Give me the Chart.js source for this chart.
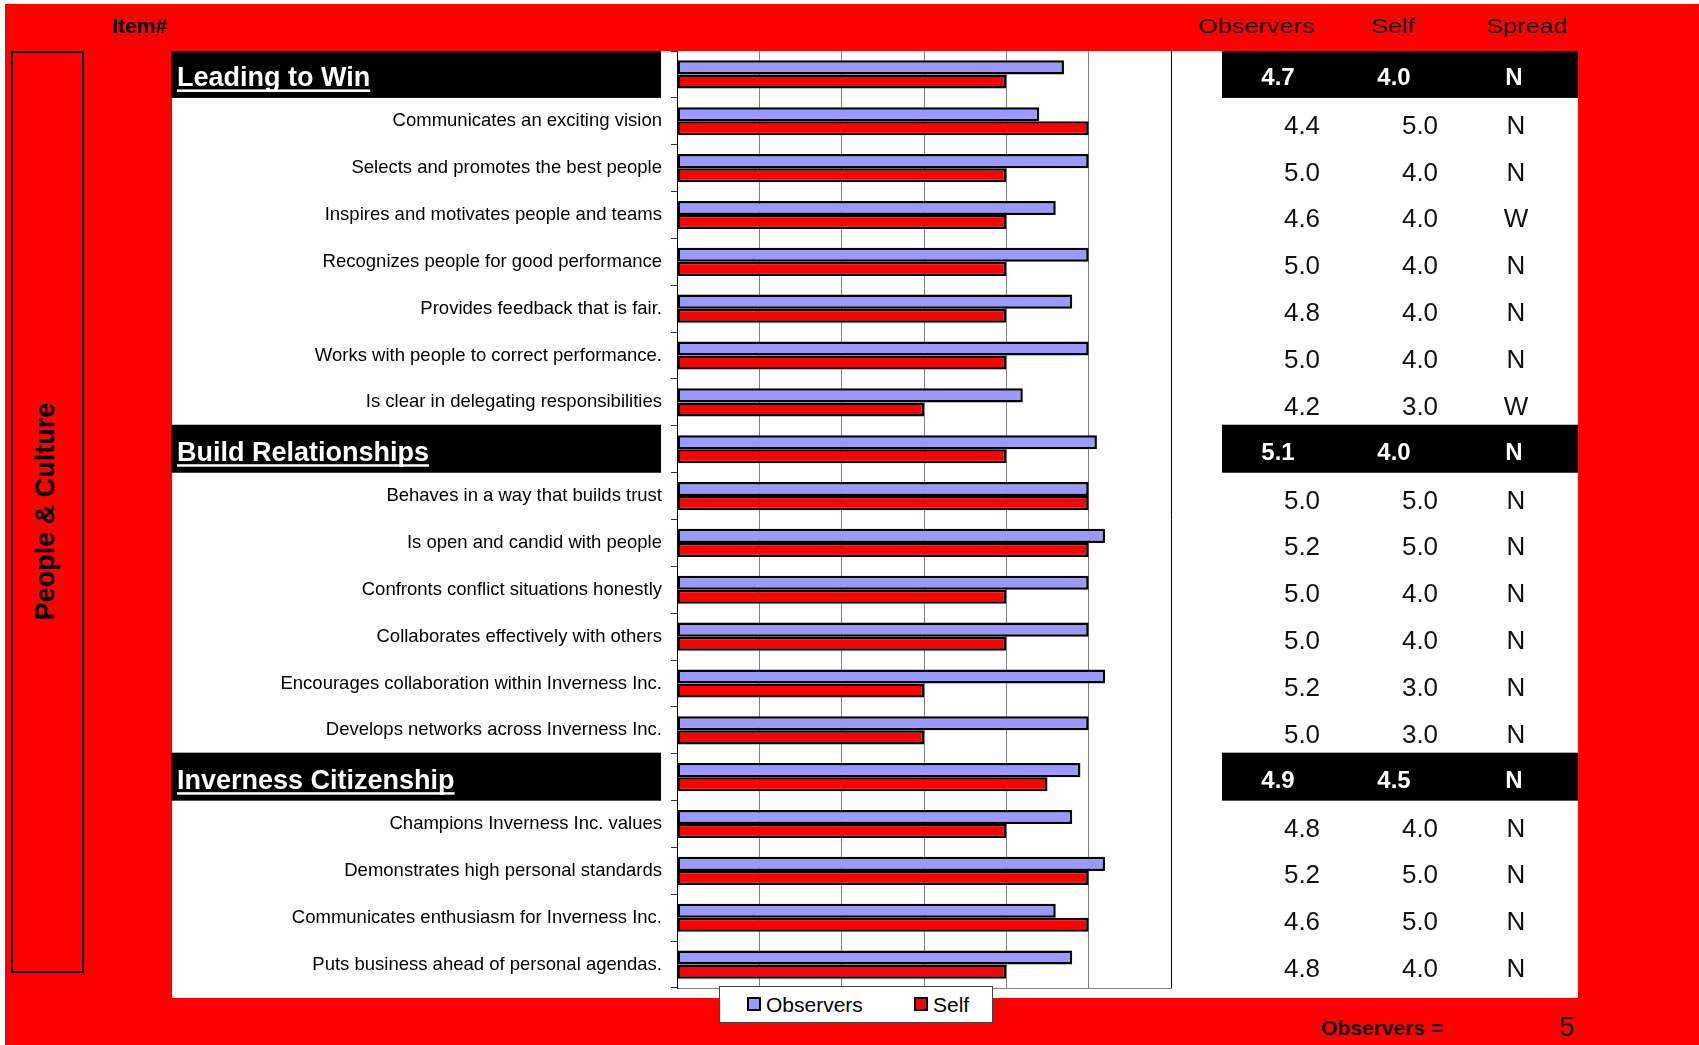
<!DOCTYPE html>
<html>
<head>
<meta charset="utf-8">
<script src="https://cdn.jsdelivr.net/npm/chart.js"></script>
<style>
  body { margin: 0; width: 1699px; height: 1045px; overflow: hidden; background: #fff; font-family: "Liberation Sans", Arial, sans-serif; }
  .abs { position: absolute; white-space: nowrap; }
  #bg { left: 5px; top: 4px; width: 1694px; height: 1041px; background: #ff0000; }
  #panel { left: 172px; top: 51px; width: 1406px; height: 947px; background: #fff; }
  #box { left: 11px; top: 51px; width: 73px; height: 922px; border: 2px solid #000; box-sizing: border-box; }
  #sideTitle { left: -105px; top: 498px; width: 300px; line-height: 27px; font-size: 27px; font-weight: bold; text-align: center; transform: rotate(-90deg); color: #000; }
  #itemHdr { left: 112px; top: 15px; font-size: 21px; line-height: 21px; font-weight: bold; color: #000; }
  .colHdr { top: 15px; font-size: 21px; line-height: 21px; color: #111; transform: scaleX(1.2); transform-origin: left center; }
  #obsCount { left: 1321px; top: 1017px; font-size: 21px; line-height: 21px; font-weight: bold; color: #111; }
  #obsNum { left: 1559px; top: 1014px; font-size: 27px; line-height: 27px; color: #111; }
  #legend { left: 719px; top: 986px; width: 274px; height: 37px; background: #fff; border: 1px solid #444; box-sizing: border-box; }
  .sw { position: absolute; top: 10px; width: 14px; height: 14px; border: 2px solid #000; box-sizing: border-box; }
  .lt { position: absolute; top: 7px; font-size: 21px; line-height: 21px; color: #000; }
  canvas { position: absolute; left: 0; top: 0; }
</style>
</head>
<body>
<div id="bg" class="abs"></div>
<div id="panel" class="abs"></div>
<div id="box" class="abs"></div>
<div id="sideTitle" class="abs">People &amp; Culture</div>
<div id="itemHdr" class="abs">Item#</div>
<div class="abs colHdr" style="left:1198px">Observers</div>
<div class="abs colHdr" style="left:1371px">Self</div>
<div class="abs colHdr" style="left:1486px">Spread</div>
<div id="obsCount" class="abs">Observers =</div>
<div id="obsNum" class="abs"></div>
<canvas id="chart" width="1699" height="1045"></canvas>
<div id="legend" class="abs">
  <div class="sw" style="left:27px;background:#9999ff"></div><div class="lt" style="left:46px">Observers</div>
  <div class="sw" style="left:194px;background:#ff0000"></div><div class="lt" style="left:213px">Self</div>
</div>
<script>
const labels = [
  'Leading to Win',
  'Communicates an exciting vision',
  'Selects and promotes the best people',
  'Inspires and motivates people and teams',
  'Recognizes people for good performance',
  'Provides feedback that is fair.',
  'Works with people to correct performance.',
  'Is clear in delegating responsibilities',
  'Build Relationships',
  'Behaves in a way that builds trust',
  'Is open and candid with people',
  'Confronts conflict situations honestly',
  'Collaborates effectively with others',
  'Encourages collaboration within Inverness Inc.',
  'Develops networks across Inverness Inc.',
  'Inverness Citizenship',
  'Champions Inverness Inc. values',
  'Demonstrates high personal standards',
  'Communicates enthusiasm for Inverness Inc.',
  'Puts business ahead of personal agendas.'
];
const headerRows = [0, 8, 15];
const observers = [4.7, 4.4, 5.0, 4.6, 5.0, 4.8, 5.0, 4.2, 5.1, 5.0, 5.2, 5.0, 5.0, 5.2, 5.0, 4.9, 4.8, 5.2, 4.6, 4.8];
const self = [4.0, 5.0, 4.0, 4.0, 4.0, 4.0, 4.0, 3.0, 4.0, 5.0, 5.0, 4.0, 4.0, 3.0, 3.0, 4.5, 4.0, 5.0, 5.0, 4.0];
const spread = ['N', 'N', 'N', 'W', 'N', 'N', 'N', 'W', 'N', 'N', 'N', 'N', 'N', 'N', 'N', 'N', 'N', 'N', 'N', 'N'];
const observerCount = 5;

document.getElementById('obsNum').textContent = observerCount;

const FONT = '"Liberation Sans", Arial, sans-serif';

// black header bands, section titles and the numbers table, lined up with the y scale
const tablePlugin = {
  id: 'tablePlugin',
  beforeDraw(chart) {
    const c = chart.ctx, y = chart.scales.y;
    c.save();
    c.fillStyle = '#000';
    headerRows.forEach(i => {
      const cy = y.getPixelForValue(i);
      const top = Math.max(51, cy - 24.5);
      const bot = cy + 23.5;
      c.fillRect(171, top, 661 - 171, bot - top);
      c.fillRect(1222, top, 1578 - 1222, bot - top);
    });
    c.restore();
  },
  afterDraw(chart) {
    const c = chart.ctx, y = chart.scales.y;
    c.save();
    c.textAlign = 'left';
    c.textBaseline = 'alphabetic';
    headerRows.forEach(i => {
      const base = y.getPixelForValue(i) + 12;
      c.font = 'bold 27px ' + FONT;
      c.fillStyle = '#fff';
      c.fillText(labels[i], 177, base);
      c.fillRect(177, base + 3, c.measureText(labels[i]).width, 2.5);
    });
    c.textAlign = 'center';
    labels.forEach((_, i) => {
      const cy = y.getPixelForValue(i);
      if (headerRows.includes(i)) {
        c.font = 'bold 24px ' + FONT;
        c.fillStyle = '#fff';
        c.fillText(observers[i].toFixed(1), 1278, cy + 11);
        c.fillText(self[i].toFixed(1), 1394, cy + 11);
        c.fillText(spread[i], 1514, cy + 11);
      } else {
        c.font = '26px ' + FONT;
        c.fillStyle = '#111';
        c.fillText(observers[i].toFixed(1), 1302, cy + 12.5);
        c.fillText(self[i].toFixed(1), 1420, cy + 12.5);
        c.fillText(spread[i], 1516, cy + 12.5);
      }
    });
    c.restore();
  }
};

new Chart(document.getElementById('chart').getContext('2d'), {
  type: 'bar',
  data: {
    labels: labels,
    datasets: [
      { label: 'Observers', data: observers, backgroundColor: '#9999ff', borderColor: '#000', borderWidth: 2.5, borderSkipped: false },
      { label: 'Self', data: self, backgroundColor: '#ff0000', borderColor: '#000', borderWidth: 2.5, borderSkipped: false }
    ]
  },
  options: {
    indexAxis: 'y',
    responsive: false,
    animation: false,
    categoryPercentage: 0.6,
    barPercentage: 1,
    layout: { padding: { left: 0, top: 51, right: 528, bottom: 57 } },
    plugins: { legend: { display: false }, tooltip: { enabled: false } },
    scales: {
      x: {
        min: 0, max: 6,
        ticks: { display: false, stepSize: 1 },
        grid: { drawTicks: false, color: c => c.tick && c.tick.value === 6 ? '#000' : '#808080' },
        border: { display: true, color: '#808080' },
        afterFit: s => { s.height = 0; }
      },
      y: {
        grid: { drawOnChartArea: false, drawTicks: true, tickLength: 6, color: '#333', offset: true },
        border: { color: '#000' },
        ticks: {
          autoSkip: false,
          padding: 9,
          color: '#000',
          font: { family: FONT, size: 18.5 },
          callback: (v, i) => headerRows.includes(i) ? '' : labels[i]
        },
        afterFit: s => { s.width = 677; }
      }
    }
  },
  plugins: [tablePlugin]
});
</script>
</body>
</html>
